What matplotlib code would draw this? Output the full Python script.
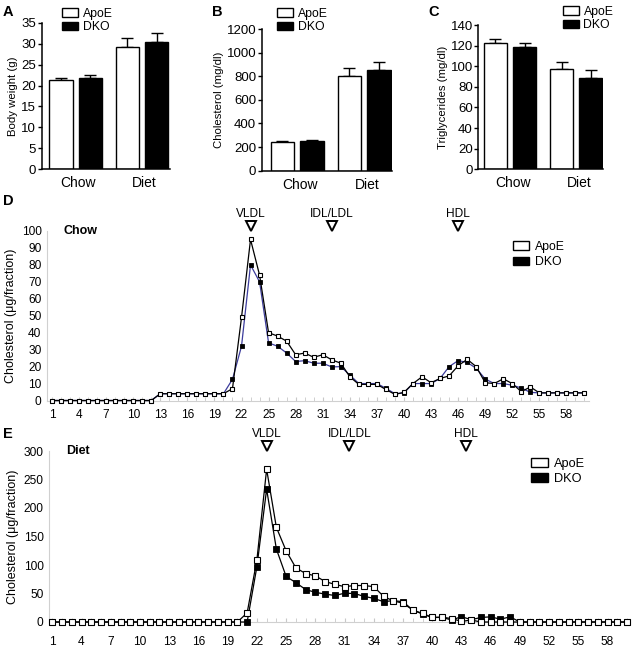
import matplotlib
matplotlib.use('Agg')
import matplotlib.pyplot as plt
from matplotlib.patches import Patch
import matplotlib.transforms as mtransforms
import numpy as np

plt.rcParams['font.family'] = ['Liberation Sans', 'DejaVu Sans']

# ---- panels A-C: group means and upper error bars ----
groups = ['Chow', 'Diet']
bw_apoe = [21.3, 29.1]
bw_apoe_err = [0.5, 2.3]
bw_dko = [21.8, 30.3]
bw_dko_err = [0.7, 2.3]

chol_apoe = [245, 802]
chol_apoe_err = [6, 65]
chol_dko = [251, 856]
chol_dko_err = [6, 68]

tg_apoe = [122.5, 97]
tg_apoe_err = [3.5, 7.5]
tg_dko = [119, 89]
tg_dko_err = [4, 7]

# ---- panels D-E: FPLC fractions ----
fractions = list(range(1, 61))

chow_apoe = ([0] * 12 + [4] * 8 +
             [7, 49, 95, 74, 40, 38, 35, 27, 28, 25.5, 27, 24, 22, 14, 9.5, 9.5, 9.5, 6.5, 3.6, 4.8,
              10, 14, 10.5, 13, 14.5, 20.5, 24.3, 20, 10.5, 10, 12.8, 10, 5.2, 8, 4.5, 4.5, 4.5, 4.5, 4.5, 4.5])
chow_dko = ([0] * 12 + [4] * 8 +
            [12.5, 32, 80, 70, 34, 32, 28, 23, 23.5, 22, 22, 19.8, 20, 15, 10, 10, 10, 7.2, 4, 4.5,
             10, 10, 10, 13, 20, 23.5, 22.5, 19, 12.7, 10, 10, 9, 7.4, 4.8, 4.5, 4.5, 4.5, 4.5, 4.5, 4.5])

diet_apoe = ([0] * 20 +
             [16, 109, 268, 166, 125, 95, 85, 81, 71, 66, 62, 64, 64, 62, 45, 37, 33, 21, 15, 8,
              8.5, 6, 1, 3.5] + [0] * 16)
diet_dko = ([0] * 20 +
            [0, 97, 233, 128, 80, 69, 57, 52, 49, 46.5, 50.5, 50, 45, 41.5, 35.6, 37.5, 35.6, 21, 14, 8,
             8, 3.5, 9.4, 4, 8, 9, 5, 9] + [0] * 12)

xtick_fracs = list(range(1, 59, 3))
chow_peaks = [('VLDL', 23), ('IDL/LDL', 32), ('HDL', 46)]
diet_peaks = [('VLDL', 23), ('IDL/LDL', 31.5), ('HDL', 43.5)]

W, H = 633, 649
fig = plt.figure(figsize=(W / 100, H / 100), dpi=100)


def px_axes(l, r, t, b):
    return fig.add_axes([l / W, 1 - b / H, (r - l) / W, (b - t) / H])


def bar_panel(box, apoe, apoe_err, dko, dko_err, ymax, ystep, ylabel, xlim, leg_xy):
    ax = px_axes(*box)
    x = np.arange(len(groups))
    w = 0.35
    off = 0.22
    ax.bar(x - off, apoe, w, color='white', edgecolor='black', linewidth=1.0, zorder=2)
    ax.bar(x + off, dko, w, color='black', edgecolor='black', linewidth=1.0, zorder=2)
    ax.errorbar(x - off, apoe, yerr=[np.zeros(len(x)), apoe_err], fmt='none',
                ecolor='black', elinewidth=1.0, capsize=4, capthick=1.0, zorder=1)
    ax.errorbar(x + off, dko, yerr=[np.zeros(len(x)), dko_err], fmt='none',
                ecolor='black', elinewidth=1.0, capsize=4, capthick=1.0, zorder=1)
    ax.set_xlim(*xlim)
    ax.set_ylim(0, ymax)
    ax.set_yticks(np.arange(0, ymax + 1e-6, ystep))
    ax.set_xticks(x + 0.04)
    ax.set_xticklabels(groups, fontsize=10)
    ax.tick_params(axis='x', length=0, pad=5)
    ax.tick_params(axis='y', labelsize=9.5, length=3, width=1, pad=1)
    for s in ['top', 'right']:
        ax.spines[s].set_visible(False)
    for s in ['left', 'bottom']:
        ax.spines[s].set_linewidth(1.1)
    ax.set_ylabel(ylabel, fontsize=8.2, labelpad=2)
    handles = [Patch(facecolor='white', edgecolor='black', linewidth=1.0),
               Patch(facecolor='black', edgecolor='black')]
    fig.legend(handles, ['ApoE', 'DKO'], loc='upper left',
               bbox_to_anchor=(leg_xy[0] / W, 1 - leg_xy[1] / H), frameon=False,
               fontsize=8.8, handlelength=1.3, handleheight=0.7, handletextpad=0.4,
               labelspacing=0.15, borderpad=0, borderaxespad=0)
    return ax


bar_panel((41.7, 170, 22.7, 169.3), bw_apoe, bw_apoe_err, bw_dko, bw_dko_err,
          35, 5, 'Body weight (g)', (-0.51, 1.42), (62, 7.5))
bar_panel((261.7, 391.7, 29, 170.7), chol_apoe, chol_apoe_err, chol_dko, chol_dko_err,
          1200, 200, 'Cholesterol (mg/dl)', (-0.53, 1.41), (277, 7.5))
bar_panel((478.3, 603.3, 25, 169.3), tg_apoe, tg_apoe_err, tg_dko, tg_dko_err,
          140, 20, 'Triglycerides (mg/dl)', (-0.48, 1.41), (562.7, 5.5))


def profile_panel(box, apoe, dko, ymax, ystep, xlim, dko_color, ms, title, peaks,
                  leg_xy, leg_fs, xpad):
    ax = px_axes(*box)
    ax.plot(fractions, dko, '-', color=dko_color, linewidth=0.9, zorder=3, clip_on=False)
    ax.plot(fractions, dko, 's', color='black', markersize=ms, markeredgewidth=0.6,
            zorder=4, clip_on=False)
    ax.plot(fractions, apoe, '-s', color='black', markerfacecolor='white',
            markeredgecolor='black', markersize=ms, markeredgewidth=0.8,
            linewidth=0.9, zorder=5, clip_on=False)
    ax.set_xlim(*xlim)
    ax.set_ylim(0, ymax)
    ax.set_yticks(np.arange(0, ymax + 1e-6, ystep))
    ax.set_xticks(xtick_fracs)
    ax.set_xticks(fractions, minor=True)
    ax.tick_params(axis='x', which='both', direction='in', length=3, color='#c8c8c8',
                   labelsize=8.6, pad=xpad)
    ax.tick_params(axis='y', direction='in', length=0, labelsize=8.6, pad=4)
    for s in ['top', 'right']:
        ax.spines[s].set_visible(False)
    for s in ['left', 'bottom']:
        ax.spines[s].set_color('#d0d0d0')
        ax.spines[s].set_linewidth(0.8)
    ax.set_ylabel('Cholesterol (\u03bcg/fraction)', fontsize=9, labelpad=3)
    ax.text(0.03, 1.0, title, transform=ax.transAxes, fontsize=9, fontweight='bold',
            ha='left', va='center')
    trans = mtransforms.blended_transform_factory(ax.transData, ax.transAxes)
    for name, f in peaks:
        ax.plot([f], [1.03], marker='v', markersize=7, markerfacecolor='white',
                markeredgecolor='black', markeredgewidth=1.4, transform=trans, clip_on=False)
        ax.text(f, 1.065, name, transform=trans, fontsize=8.6, ha='center', va='bottom')
    handles = [Patch(facecolor='white', edgecolor='black', linewidth=1.0),
               Patch(facecolor='black', edgecolor='black')]
    fig.legend(handles, ['ApoE', 'DKO'], loc='upper left',
               bbox_to_anchor=(leg_xy[0] / W, 1 - leg_xy[1] / H), frameon=False,
               fontsize=leg_fs, handlelength=1.3, handleheight=0.7, handletextpad=0.5,
               labelspacing=0.25, borderpad=0, borderaxespad=0)
    return ax


profile_panel((47, 589, 231, 400.5), chow_apoe, chow_dko, 100, 10, (0.45, 60.5),
              '#3c3c9c', 3.0, 'Chow', chow_peaks, (513, 241), 8.8, 6)
profile_panel((49, 630, 451, 622), diet_apoe, diet_dko, 300, 50, (0.66, 60.3),
              'black', 4.3, 'Diet', diet_peaks, (531, 458), 9.2, 10)

for lab, (lx, ly) in zip('ABCDE', [(3, 5), (212, 5), (428, 5), (3, 194), (3, 427)]):
    fig.text(lx / W, 1 - ly / H, lab, fontsize=10.5, fontweight='bold', ha='left', va='top')

fig.savefig('out.png', dpi=100)
